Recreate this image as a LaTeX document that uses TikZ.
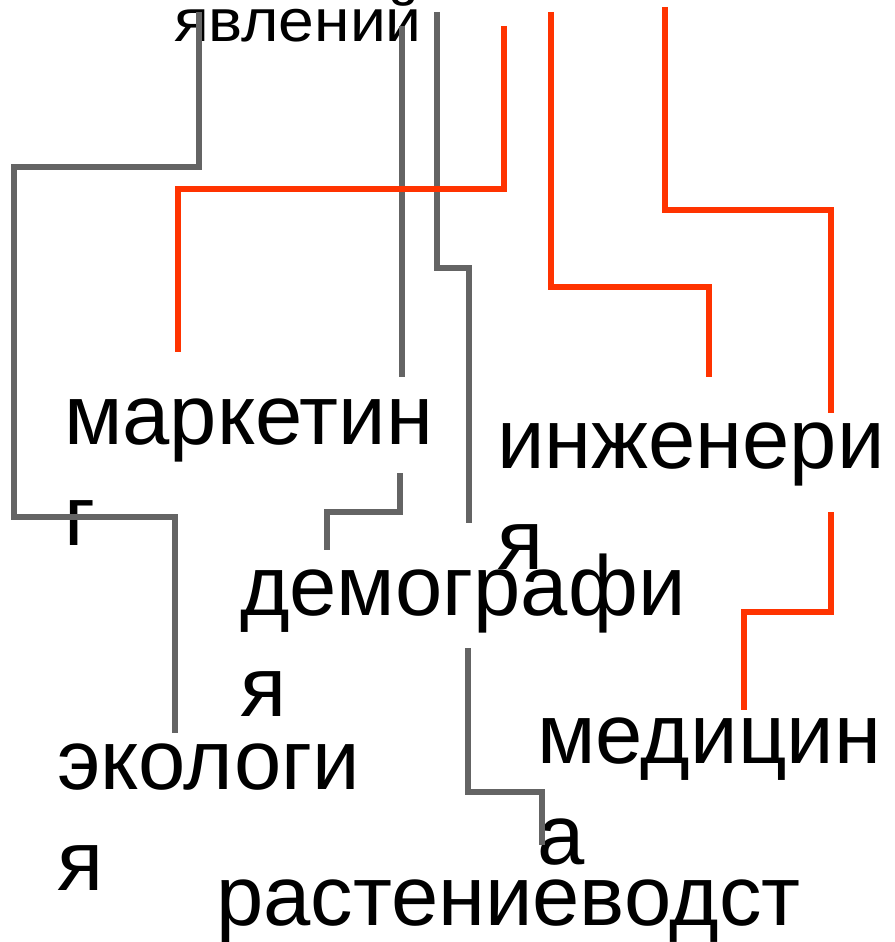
\documentclass[tikz,border=0pt]{standalone}
\usepackage{fontspec}
\setmainfont{Liberation Sans}
\usetikzlibrary{calc}
\definecolor{linegrey}{RGB}{100,100,100}
\definecolor{linered}{RGB}{255,51,0}
\begin{document}
\begin{tikzpicture}[x=1pt,y=-1pt,line join=miter,line cap=butt]
			\tikzset{every node/.style={inner sep=0pt,outer sep=0pt,anchor=base west,align=left,font=\fontsize{85}{101}\selectfont},
				greyline/.style={draw=linegrey,line width=5.4pt},
				redline/.style={draw=linered,line width=5.4pt}}
			\useasboundingbox (0,0) rectangle (894,942);
			% words (base = last line)
			\node[font=\fontsize{60}{70}\selectfont] (yav) at (174,42) {\scalebox{1.07}[1]{явлений}};
			\node (mark) at (64,545) {маркетин\\г};
			\node (inzh) at (497,569) {инженери\\я};
			\node (demo) at (240,716) {демографи\\я};
			\node (ekol) at (57,890) {экологи\\я};
			\node (med) at (537,864) {медицин\\а};
			\node (rast) at (216,925) {растениеводст};
			% free ends at the top
			\coordinate (topB) at (504,26);
			\coordinate (topD) at (437,12);
			\coordinate (topE) at (551,12);
			\coordinate (topF) at (665,7);
			% grey links
			\draw[greyline] ($(yav.base west)+(25,-30)$) |- (14,167) |- (175,517) -- ($(ekol.base west)+(118,-157)$);
			\draw[greyline] ($(yav.base west)+(228,-16)$) -- ($(mark.base west)+(338,-168)$);
			\draw[greyline] ($(mark.base west)+(336,-72)$) -- (400,512) -| ($(demo.base west)+(87,-166)$);
			\draw[greyline] (topD) |- (469,268) -- ($(demo.base west)+(229,-193)$);
			\draw[greyline] ($(demo.base west)+(228,-68)$) |- (542,792) -- ($(rast.base west)+(326,-80)$);
			% red links
			\draw[redline] (topB) |- (178,189) -- ($(mark.base west)+(114,-193)$);
			\draw[redline] (topE) |- (709,287) -- ($(inzh.base west)+(212,-192)$);
			\draw[redline] (topF) |- (831,210) -- ($(inzh.base west)+(334,-156)$);
			\draw[redline] ($(inzh.base west)+(334,-57)$) -- (831,612) -| ($(med.base west)+(207,-154)$);
		\end{tikzpicture}
\end{document}
